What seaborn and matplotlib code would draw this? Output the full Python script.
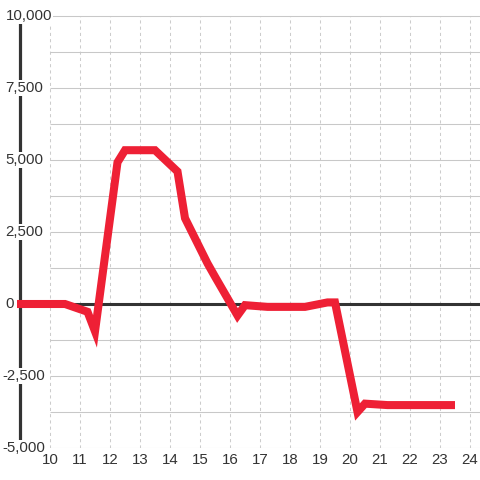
import matplotlib
matplotlib.use("Agg")
import matplotlib.pyplot as plt
import seaborn as sns
import pandas as pd
from matplotlib import transforms

# ---- data ----
hours = [8.9, 10.5, 11.25, 11.5, 12.25, 12.5, 13.5, 14.25, 14.5, 15.25, 15.5,
         16.25, 16.5, 17.25, 18.5, 19.25, 19.5, 20.25, 20.5, 21.25, 23.5]
values = [0, 0, -270, -950, 4920, 5340, 5340, 4600, 2980, 1410, 950,
          -400, -40, -100, -100, 55, 55, -3750, -3460, -3510, -3510]
x_ticks = list(range(10, 25))
y_ticks = [-5000, -2500, 0, 2500, 5000, 7500, 10000]
y_minor = [-3750, -1250, 1250, 3750, 6250, 8750]

sns.set_theme(style="white")
plt.rcParams['font.family'] = ['Liberation Sans', 'DejaVu Sans']

W = 480.0
fig = plt.figure(figsize=(4.8, 4.8), dpi=100)
fig.patch.set_facecolor('white')
ax = fig.add_axes([17 / W, 32 / W, 463 / W, 448 / W])
ax.set_facecolor('white')
ax.set_xlim(8.9, 24 + 1 / 3)
ax.set_ylim(-5000, 10000 + 2500 * 16 / 72)
for s in ax.spines.values():
    s.set_visible(False)

# grid
ax.vlines(x_ticks, -5000, 10000, colors='#cccccc', linewidth=0.75,
          linestyles=(0, (3, 3)), zorder=0.3)
ax.hlines(y_ticks + y_minor, 10, 24 + 1 / 3, colors='#c8c8c8',
          linewidth=0.75, zorder=0.3)
# left axis line and zero line
ax.vlines([9], -5000, 10000, colors='#333333', linewidth=2.3, zorder=0.4)
ax.axhline(0, color='#333333', linewidth=2.2, zorder=1)

df = pd.DataFrame({'hour': hours, 'value': values})
sns.lineplot(data=df, x='hour', y='value', ax=ax, color='#ee2035',
             linewidth=5.8, estimator=None, sort=False, zorder=3)
line = ax.lines[-1]
line.set_solid_joinstyle('miter')
line.set_solid_capstyle('butt')

ax.set_xlabel('')
ax.set_ylabel('')
ax.set_xticks(x_ticks)
ax.set_xticklabels([str(t) for t in x_ticks])
ax.tick_params(axis='x', length=0, pad=3.6, labelsize=10.8, labelcolor='#333333')
ax.set_yticks([])

trans = transforms.blended_transform_factory(ax.transAxes, ax.transData)
for v in y_ticks:
    px = 2.5 if v < 0 else 5.5
    xf = (px - 17) / 463
    ax.text(xf, v, f"{v:,}", ha='left', va='center', fontsize=10.8,
            color='#333333', transform=trans, clip_on=False, zorder=0.5,
            bbox=dict(facecolor='white', edgecolor='none', pad=1))

fig.savefig('out.png', dpi=100, facecolor='white')
